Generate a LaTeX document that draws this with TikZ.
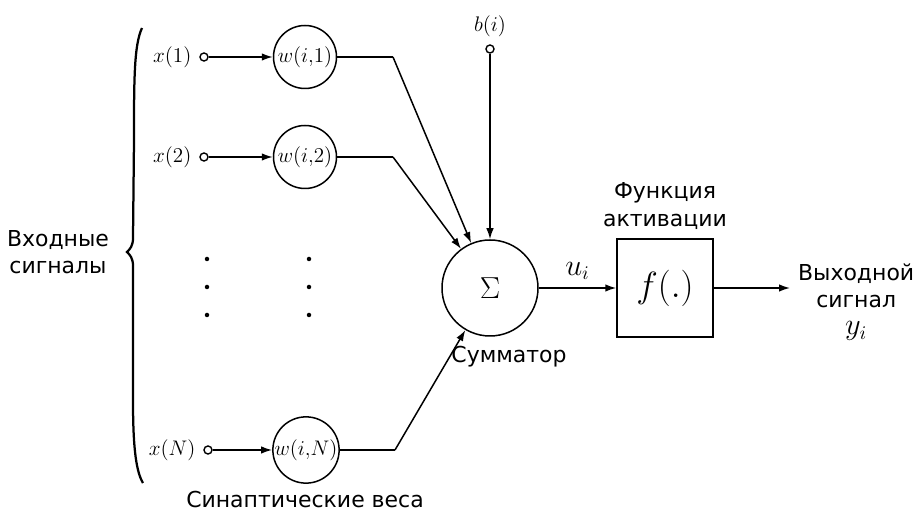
\documentclass[tikz,border=0pt]{standalone}
\usepackage{amsmath}
\usepackage{fontspec}
\setsansfont{DejaVu Sans}
\usepackage{tikz}
\usetikzlibrary{positioning, arrows.meta}

\begin{document}
\begin{tikzpicture}[
  x=0.2mm, y=-0.2mm,
  font=\fontsize{13}{16}\selectfont,
  inp/.style={draw, circle, minimum size=1.6mm, inner sep=0pt, line width=0.28mm},
  weight/.style={draw, circle, minimum size=12.6mm, inner sep=0pt, line width=0.3mm},
  sumnode/.style={draw, circle, minimum size=19.2mm, inner sep=0pt, line width=0.3mm},
  actbox/.style={draw, minimum width=19.2mm, minimum height=19.6mm, inner sep=0pt, line width=0.3mm},
  txt/.style={font=\sffamily\fontsize{12.5}{15.5}\selectfont, align=center, inner sep=1pt},
  flow/.style={-{Latex[length=2.2mm, width=1.5mm]}, line width=0.3mm},
  wire/.style={line width=0.3mm}
]
\useasboundingbox (0,0) rectangle (917,512);
% --- входы и веса ---
\node[inp] (x1) at (204,57) {};
\node[left=1pt of x1] (lx1) {$x(1)$};
\node[weight] (w1) at (305,57) {$w(i{,}1)$};
\node[inp] (x2) at (204,157) {};
\node[left=1pt of x2] (lx2) {$x(2)$};
\node[weight] (w2) at (305,157) {$w(i{,}2)$};
\node[inp] (xN) at (208,450) {};
\node[left=1pt of xN] (lxN) {$x(N)$};
\node[weight] (wN) at (306,450) {$w(i{,}N)$};
\draw[flow] (x1)--(w1); \draw[flow] (x2)--(w2); \draw[flow] (xN)--(wN);
% --- точки ---
\foreach \y in {259,287,315} {
  \fill (207,\y) circle (0.45mm);
  \fill (309,\y) circle (0.45mm);
}
% --- сумматор ---
\node[sumnode] (sum) at (490,288) {\fontsize{16}{16}\selectfont$\Sigma$};
\node[txt] (lsum) at (509,357) {Сумматор};
\coordinate (k1) at (393,57);
\coordinate (k2) at (393,157);
\coordinate (kN) at (395,450);
\draw[wire] (w1)--(k1); \draw[flow] (k1)--(sum);
\draw[wire] (w2)--(k2); \draw[flow] (k2)--(sum);
\draw[wire] (wN)--(kN); \draw[flow] (kN)--(sum);
% --- смещение ---
\node[inp] (b) at (490,49) {};
\node[above=1pt of b] (lb) {$b(i)$};
\draw[flow] (b)--(sum);
% --- функция активации ---
\node[actbox] (f) at (665,288) {\fontsize{21}{21}\selectfont$f(.)$};
\node[txt, above=4pt of f] (lf) {Функция\\активации};
\draw[flow] (sum)--(f) node[midway, above=1pt, font=\fontsize{16}{16}\selectfont] (lu) {$u_i$};
\coordinate (out) at (790,288);
\draw[flow] (f)--(out);
\node[txt, anchor=west] (ly) at (796,302) {Выходной\\сигнал\\\fontsize{16}{16}\selectfont$y_i$};
% --- входные сигналы ---
\draw[line width=0.45mm] (142,28) .. controls (134,45) and (134,80) .. (134,140)
  -- (133,238) .. controls (133,246) and (130,249) .. (127,252)
  .. controls (130,255) and (133,258) .. (133,266)
  -- (133,400) .. controls (133,440) and (135,470) .. (143,483);
\node[txt] (lin) at (58,252) {Входные\\сигналы};
\node[txt] (lw) at (305,500) {Синаптические веса};
\end{tikzpicture}
\end{document}
